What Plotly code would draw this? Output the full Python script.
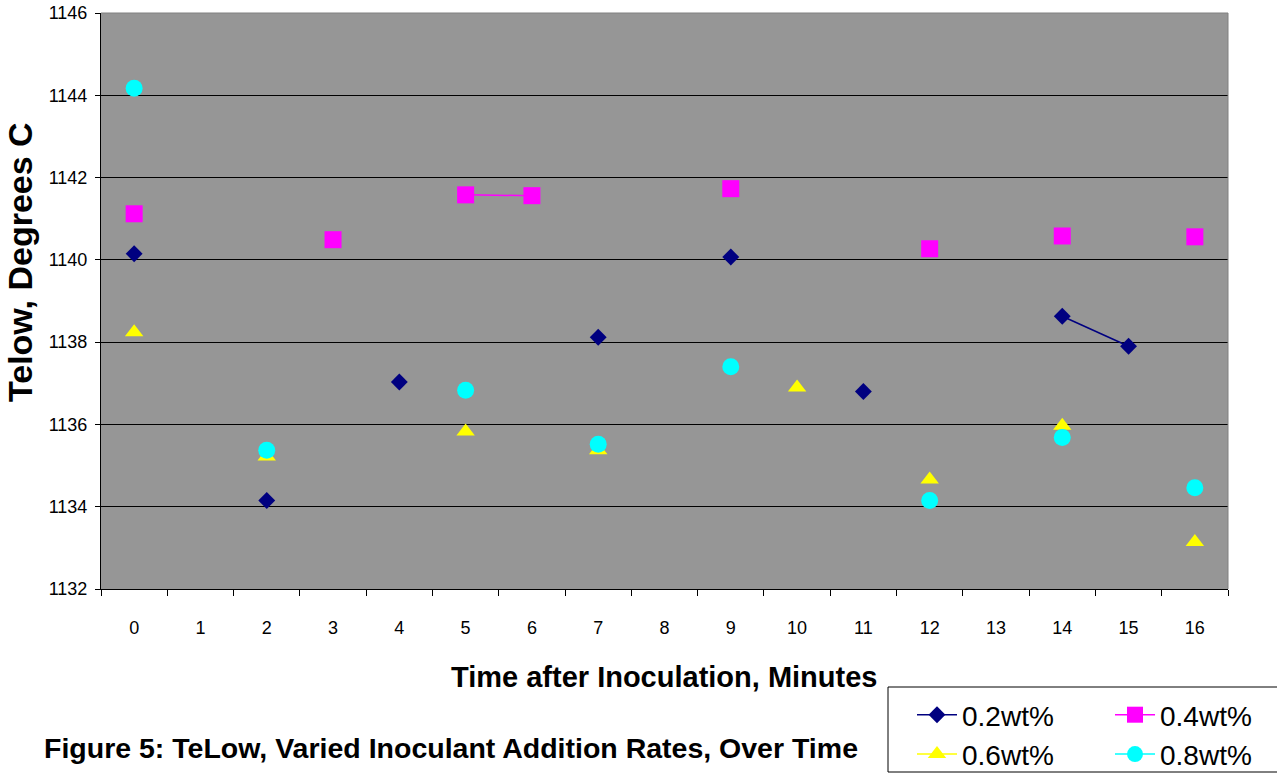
import plotly.graph_objects as go

categories = ["0", "1", "2", "3", "4", "5", "6", "7", "8", "9", "10", "11", "12", "13", "14", "15", "16"]

s02 = [1140.15, None, 1134.15, None, 1137.03, None, None, 1138.12, None, 1140.07, None, 1136.80, None, None, 1138.63, 1137.90, None]
s04 = [1141.12, None, None, 1140.49, None, 1141.58, 1141.56, None, None, 1141.73, None, None, 1140.27, None, 1140.58, None, 1140.56]
s06 = [1138.24, None, 1135.22, None, None, 1135.83, None, 1135.37, None, None, 1136.90, None, 1134.66, None, 1135.97, None, 1133.14]
s08 = [1144.17, None, 1135.37, None, None, 1136.83, None, 1135.52, None, 1137.40, None, None, 1134.15, None, 1135.68, None, 1134.46]

series = [
    ("0.2wt%", s02, "#000080", "diamond", 13, "legend"),
    ("0.4wt%", s04, "#FF00FF", "square", 17, "legend2"),
    ("0.6wt%", s06, "#FFFF00", "triangle-up", 16, "legend"),
    ("0.8wt%", s08, "#00FFFF", "circle", 17, "legend2"),
]

fig = go.Figure()
for name, vals, color, sym, size, lg in series:
    fig.add_trace(go.Scatter(
        x=categories, y=vals, name=name, mode="lines+markers",
        connectgaps=False, legend=lg,
        line=dict(color=color, width=1.5),
        marker=dict(symbol=sym, size=size, color=color, line=dict(width=0)),
    ))

L, R, T, B = 101, 49, 13, 187
W, H = 1277, 776
pw = W - L - R
ph = H - T - B

def px2x(px):
    return (px - L) / pw

def py2y(py):
    return (H - B - py) / ph

legend_common = dict(
    orientation="v", xanchor="left", yanchor="top",
    bgcolor="rgba(0,0,0,0)", borderwidth=0,
    font=dict(size=28, color="black"),
    tracegroupgap=0, itemwidth=40, traceorder="normal",
)

fig.update_layout(
    width=W, height=H,
    margin=dict(l=L, r=R, t=T, b=B, pad=0, autoexpand=False),
    paper_bgcolor="white",
    plot_bgcolor="#969696",
    font=dict(family="Liberation Sans, Arial, sans-serif", color="black"),
    showlegend=True,
    legend=dict(x=px2x(912), y=py2y(690), **legend_common),
    legend2=dict(x=px2x(1110), y=py2y(690), **legend_common),
    xaxis=dict(
        type="category",
        categoryorder="array", categoryarray=categories,
        range=[-0.5, 16.5],
        showgrid=False, zeroline=False,
        showline=True, linecolor="black", linewidth=1,
        ticks="outside", tickson="boundaries", ticklen=6, tickcolor="black",
        tickfont=dict(size=18, color="black"),
        ticklabelstandoff=22,
    ),
    yaxis=dict(
        range=[1132, 1146], dtick=2, tick0=1132,
        showgrid=True, gridcolor="black", gridwidth=1,
        zeroline=False,
        showline=True, linecolor="black", linewidth=1,
        ticks="outside", ticklen=5, tickcolor="black",
        tickfont=dict(size=18, color="black"),
        ticklabelstandoff=4,
    ),
    shapes=[
        dict(type="line", xref="paper", yref="paper", x0=0, x1=1, y0=1, y1=1,
             line=dict(color="#808080", width=1)),
        dict(type="line", xref="paper", yref="paper", x0=1, x1=1, y0=0, y1=1,
             line=dict(color="#808080", width=1)),
        dict(type="rect", xref="paper", yref="paper",
             x0=px2x(888), x1=px2x(1290), y0=py2y(687), y1=py2y(772),
             line=dict(color="black", width=1), fillcolor="rgba(0,0,0,0)", layer="below"),
    ],
    annotations=[
        dict(text="<b>Time after Inoculation, Minutes</b>", xref="paper", yref="paper",
             x=px2x(664), y=py2y(677), xanchor="center", yanchor="middle",
             showarrow=False, font=dict(size=29, color="black")),
        dict(text="<b>Telow, Degrees C</b>", xref="paper", yref="paper",
             x=px2x(20), y=py2y(262), xanchor="center", yanchor="middle",
             textangle=-90, showarrow=False, font=dict(size=34, color="black")),
        dict(text="<b>Figure 5: TeLow, Varied Inoculant Addition Rates, Over Time</b>",
             xref="paper", yref="paper",
             x=px2x(42), y=py2y(748), xanchor="left", yanchor="middle",
             showarrow=False, font=dict(size=28.5, color="black")),
    ],
)

fig.write_html("out.html")
